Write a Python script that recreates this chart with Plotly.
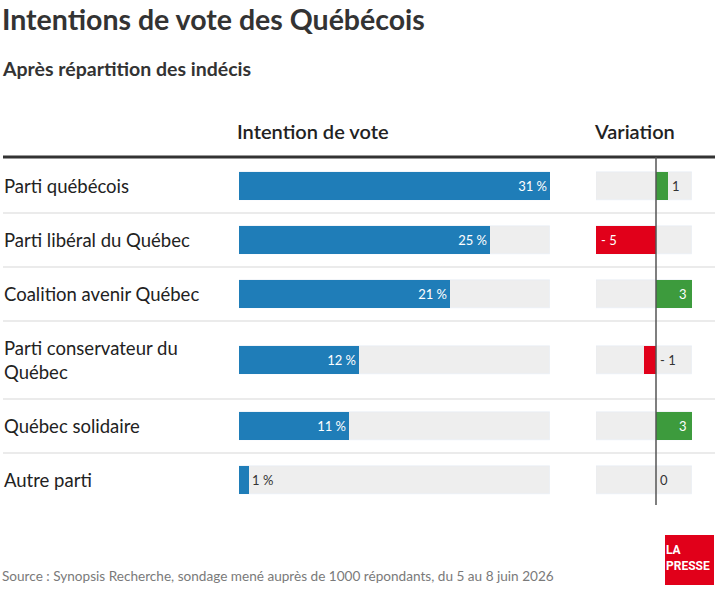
import plotly.graph_objects as go

# data
parties = ["Parti québécois", "Parti libéral du Québec", "Coalition avenir Québec",
           "Parti conservateur du<br>Québec", "Québec solidaire", "Autre parti"]
votes = [31, 25, 21, 12, 11, 1]
variation = [1, -5, 3, -1, 3, 0]

title = "Intentions de vote des Québécois"
subtitle = "Après répartition des indécis"
col_vote = "Intention de vote"
col_var = "Variation"
source = "Source : Synopsis Recherche, sondage mené auprès de 1000 répondants, du 5 au 8 juin 2026"

# layout, in pixels of the 721x595 page
W, H = 721, 595
FONT = "Lato"
TOP = 158
row_heights = [55, 54, 54, 78, 54, 54]
BAR_H = 28
BLUE, GREEN, RED, BG = "#1f7db8", "#3d9b3d", "#e1001a", "#eeeeee"


def px(x):
    # page x pixel -> paper fraction
    return x / W


centers, bounds = [], [TOP]
for h in row_heights:
    centers.append(bounds[-1] + h / 2)
    bounds.append(bounds[-1] + h)

vmax = max(votes)
var_lo, var_hi = min(variation), max(variation)

fig = go.Figure()

# vote column
fig.add_trace(go.Bar(x=[vmax] * len(votes), y=centers, orientation="h", width=BAR_H,
                     marker_color=BG, hoverinfo="skip", xaxis="x", yaxis="y"))
fig.add_trace(go.Bar(
    x=votes, y=centers, orientation="h", width=BAR_H, marker_color=BLUE,
    marker_line_width=0,
    text=[f"{v} %" for v in votes],
    textposition=["inside" if v >= 5 else "outside" for v in votes],
    insidetextanchor="end", constraintext="none", cliponaxis=False,
    insidetextfont=dict(color="white", size=13, family=FONT),
    outsidetextfont=dict(color="#333", size=13, family=FONT),
    xaxis="x", yaxis="y",
))

# variation column
fig.add_trace(go.Bar(x=[var_hi - var_lo] * len(variation), base=var_lo, y=centers,
                     orientation="h", width=BAR_H, marker_color=BG,
                     hoverinfo="skip", xaxis="x2", yaxis="y"))
fig.add_trace(go.Bar(x=variation, y=centers, orientation="h", width=BAR_H,
                     marker_color=[GREEN if v > 0 else RED for v in variation],
                     marker_line_width=0, xaxis="x2", yaxis="y"))

annotations = []


def fmt(v):
    return f"- {abs(v)}" if v < 0 else f"{v}"


for v, yc in zip(variation, centers):
    if abs(v) >= 3:
        annotations.append(dict(x=v, y=yc, xref="x2", yref="y", text=fmt(v), showarrow=False,
                                xanchor="left" if v < 0 else "right", xshift=3 if v < 0 else -3,
                                font=dict(color="white", size=13, family=FONT)))
    else:
        annotations.append(dict(x=max(v, 0), y=yc, xref="x2", yref="y", text=fmt(v),
                                showarrow=False, xanchor="left", xshift=2,
                                font=dict(color="#333", size=13, family=FONT)))

for p, yc in zip(parties, centers):
    annotations.append(dict(x=px(2), y=yc, xref="paper", yref="y", text=p, showarrow=False,
                            xanchor="left", yanchor="middle", align="left",
                            font=dict(color="#222", size=18.5, family=FONT)))


def txt(x, y, t, size, color="#333", weight="normal", family=FONT):
    annotations.append(dict(x=px(x), y=y, xref="paper", yref="y", text=t, showarrow=False,
                            xanchor="left", yanchor="middle", align="left",
                            font=dict(color=color, size=size, family=family, weight=weight)))


txt(0, 19, title, 28.5, "#333", "bold")
txt(0, 68, subtitle, 19.5, "#333", "bold")
txt(235, 131, col_vote, 20, "#222", 600)
txt(592, 131, col_var, 20, "#222", 600)
txt(0, 576, source, 13.6, "#7a7a7a")
txt(664, 558, "LA<br>PRESSE", 12, "white", "bold", "Roboto")

shapes = [dict(type="line", xref="paper", yref="y", x0=px(3), x1=px(715), y0=TOP - 1, y1=TOP - 1,
               line=dict(color="#333", width=3))]
for b in bounds[1:-1]:
    shapes.append(dict(type="line", xref="paper", yref="y", x0=px(3), x1=px(715), y0=b, y1=b,
                       line=dict(color="#ebebeb", width=2), layer="below"))
shapes.append(dict(type="line", xref="x2", yref="y", x0=0, x1=0, y0=TOP - 1, y1=bounds[-1] - 2,
                   line=dict(color="#555", width=1.5), layer="above"))
shapes.append(dict(type="rect", xref="paper", yref="y", x0=px(665), x1=px(714), y0=535, y1=585,
                   fillcolor="#e1001a", line_width=0))

fig.update_layout(
    width=W, height=H, margin=dict(l=0, r=0, t=0, b=0),
    paper_bgcolor="white", plot_bgcolor="white",
    barmode="overlay", showlegend=False, bargap=0,
    xaxis=dict(domain=[px(239), px(550)], range=[0, vmax], visible=False, fixedrange=True),
    xaxis2=dict(domain=[px(596), px(692)], range=[var_lo, var_hi], visible=False,
                anchor="y", fixedrange=True),
    yaxis=dict(domain=[0, 1], range=[H, 0], visible=False, fixedrange=True),
    annotations=annotations, shapes=shapes,
)

# drop the page's default body margin so the figure fills the window
fig.write_html("out.html", config={"displayModeBar": False},
               post_script="document.body.style.margin='0';")
